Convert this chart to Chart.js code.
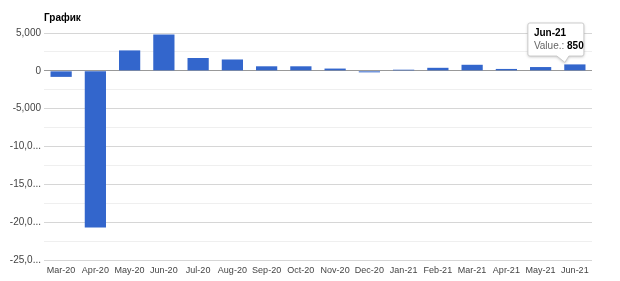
<!DOCTYPE html>
<html lang="ru">
<head>
  <meta charset="UTF-8">
  <title>График</title>
  <script src="https://cdn.jsdelivr.net/npm/chart.js"></script>
  <style>
    body { margin: 0; background: #fff; }
    .wrap { width: 620px; height: 281px; position: relative; }
  </style>
</head>
<body>
  <div class="wrap"><canvas id="chart"></canvas></div>
  <script>
    const months = ['Mar-20', 'Apr-20', 'May-20', 'Jun-20', 'Jul-20', 'Aug-20', 'Sep-20', 'Oct-20',
                    'Nov-20', 'Dec-20', 'Jan-21', 'Feb-21', 'Mar-21', 'Apr-21', 'May-21', 'Jun-21'];
    const values = [-800, -20700, 2700, 4800, 1700, 1500, 600, 600,
                    300, -200, 150, 400, 800, 250, 500, 850];
    const yTickLabels = { '5000': '5,000', '0': '0', '-5000': '-5,000', '-10000': '-10,0...',
                          '-15000': '-15,0...', '-20000': '-20,0...', '-25000': '-25,0...' };
    const chartTitle = 'График';
    const tipIndex = 15;

    const font = '"Liberation Sans", Arial, sans-serif';

    // title + google-style tooltip drawn by hand
    const extras = {
      id: 'extras',
      afterDraw(chart) {
        const ctx = chart.ctx;
        const area = chart.chartArea;
        ctx.save();
        ctx.fillStyle = '#000';
        ctx.font = 'bold 10px ' + font;
        ctx.textBaseline = 'middle';
        ctx.fillText(chartTitle, area.left, 18);

        const bar = chart.getDatasetMeta(0).data[tipIndex];
        const l = bar.x - 47, r = bar.x + 9, t = 23, b = 56;
        ctx.shadowColor = 'rgba(0,0,0,0.25)';
        ctx.shadowBlur = 3;
        ctx.shadowOffsetY = 1;
        ctx.fillStyle = '#fff';
        ctx.strokeStyle = '#ccc';
        ctx.lineWidth = 1;
        ctx.beginPath();
        ctx.moveTo(l + 2, t);
        ctx.lineTo(r - 2, t);
        ctx.quadraticCurveTo(r, t, r, t + 2);
        ctx.lineTo(r, b - 2);
        ctx.quadraticCurveTo(r, b, r - 2, b);
        ctx.lineTo(bar.x - 6, b);
        ctx.lineTo(bar.x - 10, bar.y - 2);
        ctx.lineTo(bar.x - 18, b);
        ctx.lineTo(l + 2, b);
        ctx.quadraticCurveTo(l, b, l, b - 2);
        ctx.lineTo(l, t + 2);
        ctx.quadraticCurveTo(l, t, l + 2, t);
        ctx.closePath();
        ctx.fill();
        ctx.shadowColor = 'transparent';
        ctx.stroke();

        ctx.fillStyle = '#000';
        ctx.font = 'bold 10px ' + font;
        ctx.fillText(months[tipIndex], l + 6, t + 10);
        ctx.font = '10px ' + font;
        ctx.fillStyle = '#666';
        const lab = 'Value.: ';
        ctx.fillText(lab, l + 6, t + 23);
        const w = ctx.measureText(lab).width;
        ctx.font = 'bold 10px ' + font;
        ctx.fillStyle = '#000';
        ctx.fillText(String(values[tipIndex]), l + 6 + w, t + 23);
        ctx.restore();
      }
    };

    new Chart(document.getElementById('chart'), {
      type: 'bar',
      data: {
        labels: months,
        datasets: [{
          data: values,
          backgroundColor: '#3366cc',
          barPercentage: 0.62,
          categoryPercentage: 1
        }]
      },
      options: {
        responsive: true,
        maintainAspectRatio: false,
        animation: false,
        layout: { padding: { top: 33, right: 28, bottom: 1, left: 0 } },
        plugins: { legend: { display: false }, tooltip: { enabled: false } },
        scales: {
          x: {
            grid: { display: false, drawTicks: false },
            border: { display: false },
            ticks: { color: '#444', font: { family: font, size: 9 }, maxRotation: 0, autoSkip: false, padding: 5 },
            afterFit: s => { s.height = 20; }
          },
          y: {
            min: -25000,
            max: 5000,
            ticks: {
              stepSize: 2500,
              color: '#444',
              font: { family: font, size: 10 },
              padding: 3,
              callback: v => yTickLabels[String(v)] || ''
            },
            grid: {
              drawTicks: false,
              color: c => c.tick.value === 0 ? '#999' : (c.tick.value % 5000 === 0 ? '#d6d6d6' : '#efefef'),
              lineWidth: 1
            },
            border: { display: false },
            afterFit: s => { s.width = 44; }
          }
        }
      },
      plugins: [extras]
    });
  </script>
</body>
</html>
